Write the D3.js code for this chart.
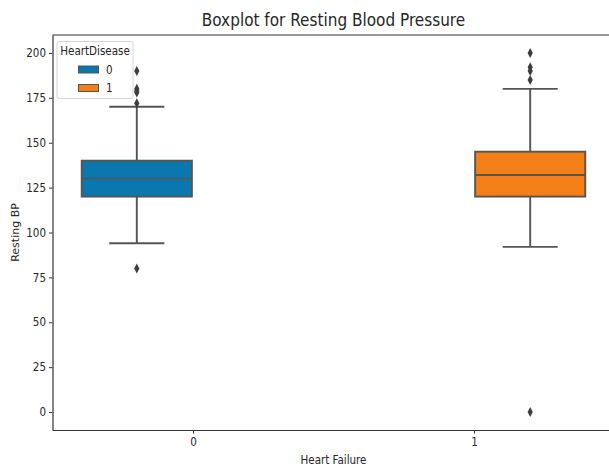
<!DOCTYPE html>
<html><head><meta charset="utf-8">
<script src="https://cdn.jsdelivr.net/npm/d3@7"></script>
<style>
html,body{margin:0;padding:0;background:#fff;overflow:hidden;}
svg{display:block;}
text{font-family:"DejaVu Sans Condensed","DejaVu Sans",sans-serif;fill:#262626;}
</style></head>
<body><svg id="c" width="609" height="469"></svg>
<script>
const categories = ["0", "1"];
const hues = ["0", "1"];
const hueColors = ["#0a78ae", "#f47f17"];
// box stats per category (hue matches category)
const q1 = [120, 120];
const medians = [130, 132];
const q3 = [140, 145];
const whiskerLow = [94, 92];
const whiskerHigh = [170, 180];
const outliers = [[80, 172, 178, 179, 180, 190], [0, 185, 190, 192, 200]];
const yTicks = [0, 25, 50, 75, 100, 125, 150, 175, 200];

const svg = d3.select("#c");
const L = 52.5, R = 614.5, T = 35, B = 430;
const x = d3.scaleLinear().domain([-0.5, 1.5]).range([L, R]);
const y = d3.scaleLinear().domain([-10, 210]).range([B, T]);
const boxW = 0.4 * 0.98;
const grey = "#555555";
const lw = 1.9;

categories.forEach((c, i) => {
  const h = i;
  const cx = i + (h === 0 ? -0.2 : 0.2);
  const g = svg.append("g");
  const x0 = x(cx - boxW / 2), x1 = x(cx + boxW / 2);
  g.append("line").attr("x1", x(cx)).attr("x2", x(cx)).attr("y1", y(q3[i])).attr("y2", y(whiskerHigh[i])).attr("stroke", grey).attr("stroke-width", lw);
  g.append("line").attr("x1", x(cx)).attr("x2", x(cx)).attr("y1", y(q1[i])).attr("y2", y(whiskerLow[i])).attr("stroke", grey).attr("stroke-width", lw);
  const capW = boxW / 2;
  [whiskerHigh[i], whiskerLow[i]].forEach(v => {
    g.append("line").attr("x1", x(cx - capW / 2)).attr("x2", x(cx + capW / 2)).attr("y1", y(v)).attr("y2", y(v)).attr("stroke", grey).attr("stroke-width", lw);
  });
  g.append("rect").attr("x", x0).attr("width", x1 - x0).attr("y", y(q3[i])).attr("height", y(q1[i]) - y(q3[i]))
    .attr("fill", hueColors[h]).attr("stroke", grey).attr("stroke-width", lw);
  g.append("line").attr("x1", x0).attr("x2", x1).attr("y1", y(medians[i])).attr("y2", y(medians[i])).attr("stroke", grey).attr("stroke-width", lw);
  outliers[i].forEach(v => {
    g.append("path").attr("d", `M${x(cx)},${y(v) - 5}L${x(cx) + 2.6},${y(v)}L${x(cx)},${y(v) + 5}L${x(cx) - 2.6},${y(v)}Z`).attr("fill", "#3d3d3d");
  });
});

const yAxis = svg.append("g").attr("transform", `translate(${L},0)`).call(d3.axisLeft(y).tickValues(yTicks).tickSize(3.5).tickSizeOuter(0).tickPadding(3));
const xAxis = svg.append("g").attr("transform", `translate(0,${B})`).call(d3.axisBottom(x).tickValues([0, 1]).tickFormat(d => categories[d]).tickSize(3.5).tickSizeOuter(0).tickPadding(4));
[yAxis, xAxis].forEach(a => {
  a.selectAll("text").attr("font-size", 11.5).style("fill", "#262626").attr("font-family", null);
  a.selectAll("line").attr("stroke", "#333");
  a.select(".domain").attr("stroke", "#333").attr("stroke-width", 1.2);
});
svg.append("line").attr("x1", L).attr("x2", R).attr("y1", T).attr("y2", T).attr("stroke", "#333").attr("stroke-width", 1.2);

svg.append("text").attr("x", (L + R) / 2).attr("y", 26).attr("text-anchor", "middle").attr("font-size", 17).text("Boxplot for Resting Blood Pressure");
svg.append("text").attr("x", (L + R) / 2).attr("y", 464).attr("text-anchor", "middle").attr("font-size", 11.5).text("Heart Failure");
svg.append("text").attr("transform", `translate(19,${(T + B) / 2}) rotate(-90)`).attr("text-anchor", "middle").attr("font-size", 11).style("font-family", "DejaVu Sans").text("Resting BP");

const lg = svg.append("g");
lg.append("rect").attr("x", 57).attr("y", 41.5).attr("width", 76).attr("height", 57).attr("rx", 2).attr("fill", "#fff").attr("fill-opacity", 0.8).attr("stroke", "#d6d6d6");
lg.append("text").attr("x", 95).attr("y", 55).attr("text-anchor", "middle").attr("font-size", 11.5).text("HeartDisease");
hues.forEach((h, i) => {
  lg.append("rect").attr("x", 78.5).attr("y", 66 + i * 18.5).attr("width", 20).attr("height", 7).attr("fill", hueColors[i]).attr("stroke", grey).attr("stroke-width", 1);
  lg.append("text").attr("x", 106).attr("y", 73.5 + i * 18.5).attr("font-size", 11.5).text(h);
});
</script></body></html>
